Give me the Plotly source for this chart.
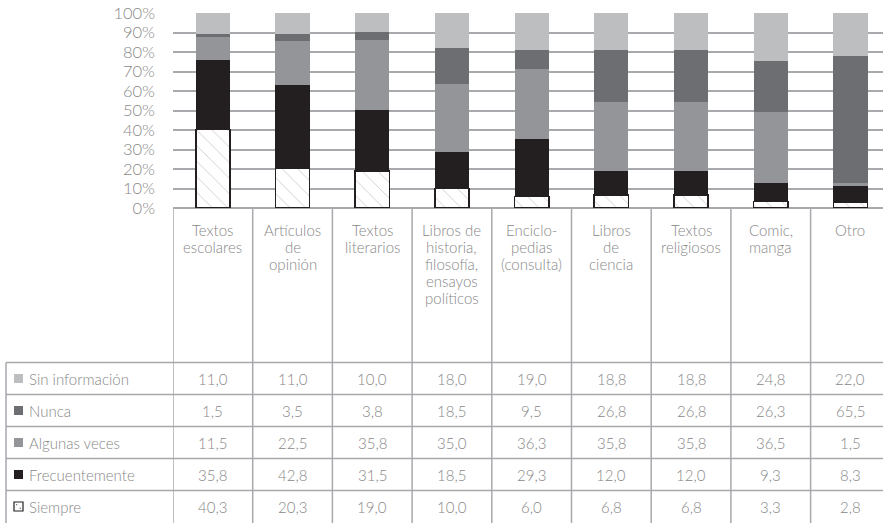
import plotly.graph_objects as go

# Categories (header row of the table) and frequency series, in %
categorias = [
    ["Textos", "escolares"],
    ["Artículos", "de", "opinión"],
    ["Textos", "literarios"],
    ["Libros de", "historia,", "filosofía,", "ensayos", "políticos"],
    ["Enciclo-", "pedias", "(consulta)"],
    ["Libros", "de", "ciencia"],
    ["Textos", "religiosos"],
    ["Comic,", "manga"],
    ["Otro"],
]

sin_informacion = [11.0, 11.0, 10.0, 18.0, 19.0, 18.8, 18.8, 24.8, 22.0]
nunca = [1.5, 3.5, 3.8, 18.5, 9.5, 26.8, 26.8, 26.3, 65.5]
algunas_veces = [11.5, 22.5, 35.8, 35.0, 36.3, 35.8, 35.8, 36.5, 1.5]
frecuentemente = [35.8, 42.8, 31.5, 18.5, 29.3, 12.0, 12.0, 9.3, 8.3]
siempre = [40.3, 20.3, 19.0, 10.0, 6.0, 6.8, 6.8, 3.3, 2.8]

tick_vals = list(range(0, 101, 10))
tick_text = [f"{v}%" for v in tick_vals]

# (name, values, fill colour) from bottom of the stack to the top
series = [
    ("Siempre", siempre, "white"),
    ("Frecuentemente", frecuentemente, "#231f20"),
    ("Algunas veces", algunas_veces, "#939598"),
    ("Nunca", nunca, "#6d6e71"),
    ("Sin información", sin_informacion, "#bcbec0"),
]

W, H = 883, 523
FONT = "Lato"
TXT = "#888888"
LINE = "#a7a9ac"
TFONT = dict(family=FONT, size=15, color=TXT, weight=300)

def py(px):
    """pixel row -> paper y"""
    return 1 - px / H

n = len(categorias)
xs = list(range(n))
plot_left = 173
col_w = 79.7
x_max = -0.5 + (W - plot_left) / col_w

fig = go.Figure()
for name, vals, color in series:
    marker = dict(color=color, line=dict(width=0))
    if name == "Siempre":
        marker = dict(
            color="white",
            line=dict(color="#231f20", width=1.6),
            pattern=dict(shape="\\", fgcolor="#777777", bgcolor="white",
                         size=11, solidity=0.06),
        )
    fig.add_trace(go.Bar(x=xs, y=vals, name=name, marker=marker,
                         width=0.43, showlegend=False))

# ---- table geometry (pixels) ----
axis_bottom = 208
row_top = 362.5
row_h = 32
label_left = 6
head_first = 230
head_step = 17

shapes = []
annotations = []

# vertical column separators below the plot
for k in range(n):
    shapes.append(dict(type="line", xref="x", yref="paper",
                       x0=k - 0.5, x1=k - 0.5, y0=0, y1=py(axis_bottom),
                       line=dict(color=LINE, width=1.5)))
# left border of the row-label column
shapes.append(dict(type="line", xref="paper", yref="paper",
                   x0=label_left / W, x1=label_left / W, y0=0, y1=py(row_top),
                   line=dict(color=LINE, width=1.5)))

# category header labels, one annotation per text line
for k, lines in enumerate(categorias):
    for j, line in enumerate(lines):
        annotations.append(dict(xref="x", yref="paper", x=k,
                                y=py(head_first + j * head_step),
                                yanchor="middle", xanchor="center", text=line,
                                showarrow=False, font=TFONT))

# data rows: top of table = Sin información ... bottom = Siempre
rows = list(reversed(series))
for i, (name, vals, color) in enumerate(rows):
    top = row_top + i * row_h
    cy = top + row_h / 2
    shapes.append(dict(type="line", xref="paper", yref="paper",
                       x0=label_left / W, x1=1, y0=py(top), y1=py(top),
                       line=dict(color=LINE, width=1.5)))
    # legend swatch
    sq = dict(type="rect", xref="paper", yref="paper",
              x0=14 / W, x1=23 / W, y0=py(cy + 4.5), y1=py(cy - 4.5),
              fillcolor=color, line=dict(width=0))
    if name == "Siempre":
        sq["line"] = dict(color="#231f20", width=1.2)
    shapes.append(sq)
    if name == "Siempre":
        for dx, dy in [(-1.8, -1.8), (1.8, 1.8)]:
            shapes.append(dict(type="rect", xref="paper", yref="paper",
                               x0=(18.5 + dx - 0.5) / W, x1=(18.5 + dx + 0.5) / W,
                               y0=py(cy + dy + 0.5), y1=py(cy + dy - 0.5),
                               fillcolor="#231f20", line=dict(width=0)))
    annotations.append(dict(xref="paper", yref="paper", x=27 / W, y=py(cy),
                            xanchor="left", yanchor="middle", text=name,
                            showarrow=False, font=TFONT))
    for k, v in enumerate(vals):
        annotations.append(dict(xref="x", yref="paper", x=k, y=py(cy),
                                xanchor="center", yanchor="middle",
                                text=f"{v:.1f}".replace(".", ","),
                                showarrow=False, font=TFONT))

fig.update_layout(
    width=W, height=H,
    margin=dict(l=0, r=0, t=0, b=0, autoexpand=False),
    paper_bgcolor="white", plot_bgcolor="white",
    barmode="stack", barnorm="percent",
    xaxis=dict(domain=[plot_left / W, 1], range=[-0.5, x_max],
               showticklabels=False, showgrid=False, zeroline=False,
               showline=False, fixedrange=True),
    yaxis=dict(domain=[py(axis_bottom), py(13)], range=[0, 100],
               tickvals=tick_vals, ticktext=tick_text,
               showgrid=True, gridcolor=LINE, gridwidth=1.5,
               zeroline=True, zerolinecolor=LINE, zerolinewidth=1.5,
               showline=False, ticks="", ticklabelstandoff=17,
               tickfont=dict(family=FONT, size=16.5, color=TXT, weight=300)),
    shapes=shapes,
    annotations=annotations,
)

fig.write_html("out.html")
